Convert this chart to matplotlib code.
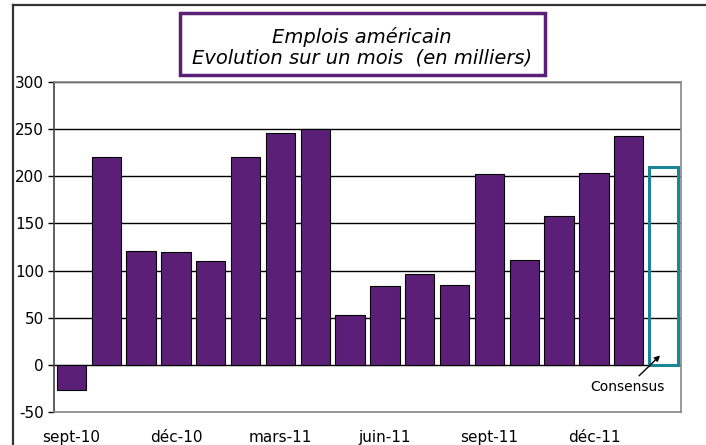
import matplotlib.pyplot as plt
from matplotlib.lines import Line2D
from matplotlib.patches import Rectangle

# monthly change in US payrolls (thousands), sept-10 .. jan-12, then consensus for feb-12
values = [-27, 220, 121, 120, 110, 220, 246, 250, 53, 84, 96, 85, 202, 111, 158, 203, 243]
consensus = 210
tick_pos = [0, 3, 6, 9, 12, 15]
tick_labels = ["sept-10", "déc-10", "mars-11", "juin-11", "sept-11", "déc-11"]

plt.rcParams['font.family'] = ['DejaVu Sans']
plt.rcParams['axes.unicode_minus'] = False

fig = plt.figure(figsize=(7.06, 4.45), dpi=100)
ax = fig.add_axes([54/706, 33/445, 627/706, 330/445])

x = list(range(len(values)))
ax.bar(x, values, width=0.84, color='#5b1f78', edgecolor='black', linewidth=0.8, zorder=3)
ax.bar([len(values)], [consensus], width=0.84, fill=False, edgecolor='#1b8596',
       linewidth=2.2, zorder=3)

ax.set_xlim(-0.5, len(values) + 0.5)
ax.set_ylim(-50, 300)
ax.set_yticks(range(-50, 301, 50))
ax.yaxis.grid(True, color='black', linewidth=1, zorder=1)
ax.set_axisbelow(True)
ax.set_xticks(tick_pos)
ax.set_xticklabels(tick_labels)
ax.tick_params(axis='x', length=0, pad=13, labelsize=11)
ax.tick_params(axis='y', length=4.3, width=1, labelsize=11, direction='out', pad=3)
for s in ax.spines.values():
    s.set_color('#888888')
    s.set_linewidth(1.2)
ax.spines['left'].set_color('#444444')

ax.annotate("Consensus", xy=(len(values) - 0.1, 10), xytext=(len(values) - 1.05, -24),
            fontsize=10, ha='center', va='center',
            arrowprops=dict(arrowstyle='-|>', color='black', lw=1, mutation_scale=8,
                            shrinkA=2, shrinkB=0))

# outer frame of the figure
fig.add_artist(Line2D([13/706, 13/706], [0, 1 - 5/445], color='#333333', lw=1.6))
fig.add_artist(Line2D([13/706, 1], [1 - 5/445, 1 - 5/445], color='#333333', lw=1.6))

# title box
fig.add_artist(Rectangle((180/706, 1 - 75/445), 365/706, 62/445, fill=False,
                         edgecolor='#5b1f78', linewidth=2.5))
fig.text(362/706, 1 - 37/445, "Emplois américain", ha='center', va='center',
         fontsize=14, style='italic')
fig.text(362/706, 1 - 58/445, "Evolution sur un mois  (en milliers)", ha='center',
         va='center', fontsize=14, style='italic')

plt.savefig("out.png", dpi=100)
